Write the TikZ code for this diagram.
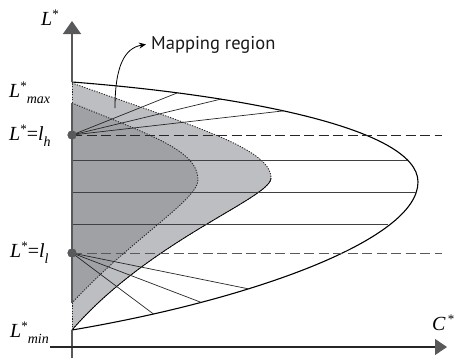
\documentclass[tikz,border=0pt]{standalone}
\usepackage{fontspec}
\setmainfont{Liberation Serif}
\newfontfamily\sansf{PT Sans}
\usetikzlibrary{arrows.meta}
\definecolor{darkreg}{HTML}{A0A1A4}
\definecolor{lightreg}{HTML}{BDBEC1}
\definecolor{axisgray}{HTML}{58595B}
\newcommand\Lst{\textit{L}\raisebox{7pt}{\fontsize{13}{13}\selectfont *}}
\newcommand\lowsub[1]{\raisebox{-6pt}{\fontsize{14}{14}\selectfont\itshape #1}}
\begin{document}
\begin{tikzpicture}[x=1pt,y=-1pt,
  lbl/.style={anchor=base west, inner sep=0pt, font=\fontsize{20}{20}\selectfont},
  outer/.style={line width=1.1pt, black},
  fan/.style={line width=0.7pt, black!85},
  hline/.style={line width=0.8pt, black!75},
  dotb/.style={line width=0.9pt, dash pattern=on 1.2pt off 1.4pt, black!85},
  dashln/.style={line width=1pt, dash pattern=on 10pt off 4.5pt},
  hub/.style={circle, fill=axisgray, minimum size=9pt, inner sep=0pt},
  axisln/.style={line width=1.5pt, axisgray},
]
\useasboundingbox (0,0) rectangle (458,362);
% regions
\fill[lightreg] (72,83) .. controls (190,125) and (271,148) .. (271,178)
   .. controls (271,198) and (150,240) .. (72,330) -- cycle;
\fill[darkreg] (72,103) .. controls (150,135) and (198,150) .. (198,180)
   .. controls (198,200) and (130,240) .. (72,303) -- cycle;
\draw[dotb] (72,83) .. controls (190,125) and (271,148) .. (271,178)
   .. controls (271,198) and (150,240) .. (72,330);
\draw[line width=0.7pt] (271,178) .. controls (271,198) and (150,240) .. (72,330);
\draw[dotb] (72,103) .. controls (150,135) and (198,150) .. (198,180)
   .. controls (198,200) and (130,240) .. (72,303);
% hubs
\node[hub] (hh) at (72,135) {};
\node[hub] (hl) at (72,253) {};
% outer curve
\draw[outer] (72,82) .. controls (240,95) and (418,128) .. (418,182)
   coordinate[pos=0.21] (t1) coordinate[pos=0.3] (t2) coordinate[pos=0.44] (t3)
   .. controls (418,240) and (250,300) .. (72,330)
   coordinate[pos=0.65] (b1) coordinate[pos=0.75] (b2) coordinate[pos=0.845] (b3);
% fan lines
\foreach \p in {t1,t2,t3} \draw[fan] (hh.center) -- (\p);
\foreach \p in {b1,b2,b3} \draw[fan] (hl.center) -- (\p);
% horizontal lines
\draw[hline] (72,160) -- (407,160);
\draw[hline] (72,192) -- (417,192);
\draw[hline] (72,224) -- (388,224);
% dashed
\draw[dashln, black!85] (hh.center) -- (442,135);
\draw[dashln, black!65] (hl.center) -- (442,253);
% vertical axis
\draw[axisln] (72,358) -- (72,330);
\draw[axisln] (72,303) -- (72,103);
\draw[dotb] (72,330) -- (72,303);
\draw[dotb] (72,103) -- (72,82);
\draw[axisln, -{Triangle[length=13pt,width=18pt]}] (72,82) -- (72,21);
% horizontal axis
\draw[line width=1.1pt, black!85, -{Triangle[length=12pt,width=16pt,fill=axisgray,color=axisgray]}] (50,347) -- (447,347);
\node[hub] at (72,135) {};
\node[hub] at (72,253) {};
% mapping region
\node[anchor=base west, inner sep=0pt, font=\sansf\fontsize{18.5}{18.5}\selectfont, text=black!90] (mr) at (151,49) {Mapping region};
\coordinate (src) at (115,108);
\draw[line width=0.8pt, -{Stealth[length=7pt,width=6pt]}] (src) .. controls (115,65) and (125,48) .. ([xshift=-5pt]mr.west);
% labels
\node[lbl] (ly) at (41,25) {\Lst};
\node[lbl] (lmax) at (9,97) {\Lst\lowsub{max}};
\node[lbl] (llh) at (9,140) {\Lst=\textit{l}\lowsub{h}};
\node[lbl] (lll) at (10,257) {\Lst=\textit{l}\lowsub{l}};
\node[lbl] (lmin) at (10,337) {\Lst\lowsub{min}};
\node[lbl] (cx) at (432,330) {\textit{C}\raisebox{7pt}{\fontsize{13}{13}\selectfont\,*}};
\end{tikzpicture}
\end{document}
